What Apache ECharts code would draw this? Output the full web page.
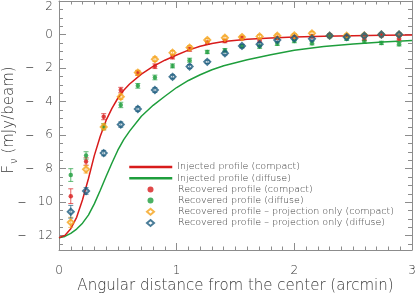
<!DOCTYPE html>
<html><head><meta charset="utf-8">
<script src="https://cdn.jsdelivr.net/npm/echarts@6/dist/echarts.min.js"></script>
<style>html,body{margin:0;padding:0;background:#fff}#c{width:415px;height:294px}</style>
</head><body><div id="c"></div>
<script>
// Injected model profiles
const curveX = [0, 0.05, 0.1, 0.15, 0.2, 0.25, 0.3, 0.35, 0.4, 0.45, 0.5, 0.55, 0.6, 0.7, 0.8, 0.9, 1.0, 1.1, 1.2, 1.3, 1.4, 1.6, 1.8, 2.0, 2.25, 2.5, 2.75, 3.0];
const injCompact = [-12.12, -11.98, -11.58, -10.9, -9.85, -8.6, -7.22, -6.08, -5.12, -4.4, -3.8, -3.32, -2.95, -2.36, -1.9, -1.53, -1.22, -0.93, -0.7, -0.53, -0.42, -0.28, -0.2, -0.14, -0.1, -0.07, -0.05, -0.03];
const injDiffuse = [-12.12, -12.04, -11.86, -11.6, -11.25, -10.77, -10.1, -9.3, -8.47, -7.66, -6.9, -6.27, -5.76, -4.87, -4.22, -3.68, -3.16, -2.74, -2.4, -2.1, -1.86, -1.5, -1.2, -0.94, -0.72, -0.56, -0.45, -0.35];

// Recovered profiles (points with error bars)
const ptX = [0.1, 0.23, 0.38, 0.525, 0.67, 0.815, 0.965, 1.11, 1.26, 1.41, 1.555, 1.705, 1.855, 2.0, 2.15, 2.3, 2.445, 2.595, 2.74, 2.89];
const recCompact = [-9.64, -7.57, -4.9, -3.31, -2.3, -1.89, -1.34, -0.88, -0.49, -0.39, -0.22, -0.35, -0.2, -0.15, -0.1, -0.05, -0.1, -0.25, -0.05, -0.23];
const recCompactErr = [0.44, 0.22, 0.18, 0.16, 0.14, 0.14, 0.12, 0.12, 0.1, 0.1, 0.1, 0.1, 0.1, 0.1, 0.1, 0.1, 0.1, 0.1, 0.1, 0.1];
const recDiffuse = [-8.38, -7.21, -5.5, -4.2, -3.06, -2.56, -1.87, -1.53, -1.04, -0.94, -0.7, -0.72, -0.55, -0.39, -0.52, -0.1, -0.25, -0.43, -0.5, -0.58];
const recDiffuseErr = [0.38, 0.22, 0.18, 0.16, 0.14, 0.14, 0.12, 0.12, 0.1, 0.1, 0.1, 0.1, 0.1, 0.1, 0.1, 0.1, 0.1, 0.1, 0.1, 0.1];
const projCompact = [-11.2, -8.04, -5.51, -3.71, -2.27, -1.47, -1.08, -0.78, -0.33, -0.19, -0.15, -0.11, -0.07, -0.05, 0.07, -0.07, -0.07, -0.05, 0.0, 0.0];
const projCompactErr = [0.3, 0.22, 0.18, 0.16, 0.14, 0.14, 0.12, 0.12, 0.1, 0.1, 0.1, 0.1, 0.1, 0.1, 0.1, 0.1, 0.1, 0.1, 0.1, 0.1];
const projDiffuse = [-10.57, -9.33, -7.07, -5.37, -4.44, -3.31, -2.52, -1.91, -1.63, -1.12, -0.68, -0.58, -0.33, -0.23, -0.25, -0.07, -0.15, -0.07, 0.0, 0.0];
const projDiffuseErr = [0.38, 0.2, 0.16, 0.16, 0.14, 0.14, 0.12, 0.12, 0.1, 0.1, 0.1, 0.1, 0.1, 0.1, 0.1, 0.1, 0.1, 0.1, 0.1, 0.1];

const names = ['Injected profile (compact)', 'Injected profile (diffuse)', 'Recovered profile (compact)', 'Recovered profile (diffuse)', 'Recovered profile \u2013 projection only (compact)', 'Recovered profile \u2013 projection only (diffuse)'];

const RED = '#d81b1b', GREEN = '#1e9e3c', ORANGE = '#f5a31a', BLUE = '#1b5b7e';
const FONT = 'DejaVu Sans';
const AXC = '#8c8c8c', TXT = '#383838';

function errSeries(ys, es, color) {
  return {
    type: 'custom', silent: true, z: 3,
    data: ptX.map((x, i) => [x, ys[i], es[i]]),
    renderItem: function (params, api) {
      const x = api.value(0), y = api.value(1), e = api.value(2);
      const t = api.coord([x, y + e]), b = api.coord([x, y - e]);
      const hw = 2.5;
      const st = { stroke: color, lineWidth: 1, opacity: 0.7 };
      return { type: 'group', children: [
        { type: 'line', shape: { x1: t[0], y1: t[1], x2: b[0], y2: b[1] }, style: st },
        { type: 'line', shape: { x1: t[0] - hw, y1: t[1], x2: t[0] + hw, y2: t[1] }, style: st },
        { type: 'line', shape: { x1: b[0] - hw, y1: b[1], x2: b[0] + hw, y2: b[1] }, style: st }
      ] };
    }
  };
}
function pts(ys) { return ptX.map((x, i) => [x, ys[i]]); }
function crv(ys) { return curveX.map((x, i) => [x, ys[i]]); }

const axisCommonX = {
  type: 'value', min: 0, max: 3, interval: 1,
  axisLine: { show: true, onZero: false, lineStyle: { color: AXC, width: 1 } },
  axisTick: { show: true, inside: true, length: 7, lineStyle: { color: AXC } },
  minorTick: { show: true, splitNumber: 10, length: 3.5, lineStyle: { color: AXC } },
  splitLine: { show: false }, minorSplitLine: { show: false }
};
const axisCommonY = {
  type: 'value', min: -12.85, max: 2, splitNumber: 7,
  axisLine: { show: true, onZero: false, lineStyle: { color: AXC, width: 1 } },
  axisTick: { show: true, inside: true, length: 7, lineStyle: { color: AXC } },
  minorTick: { show: true, splitNumber: 4, length: 4, lineStyle: { color: AXC } },
  splitLine: { show: false }, minorSplitLine: { show: false }
};
const legendText = { fontFamily: FONT, fontSize: 9.5, fontWeight: 200, color: TXT, lineHeight: 11 };

const chart = echarts.init(document.getElementById('c'), null, { renderer: 'canvas' });
chart.setOption({
  animation: false,
  backgroundColor: '#fff',
  grid: { left: 59, right: 3, top: 1, bottom: 44, containLabel: false, outerBoundsMode: 'none' },
  xAxis: [
    Object.assign({}, axisCommonX, {
      position: 'bottom',
      name: 'Angular distance from the center (arcmin)', nameLocation: 'middle', nameGap: 29,
      nameMoveOverlap: false,
      nameTextStyle: { fontFamily: FONT, fontSize: 15, fontWeight: 200, color: TXT },
      axisLabel: { show: true, margin: 15, fontFamily: FONT, fontSize: 12, fontWeight: 200, color: TXT }
    }),
    Object.assign({}, axisCommonX, { position: 'top', axisLabel: { show: false } })
  ],
  yAxis: [
    Object.assign({}, axisCommonY, {
      position: 'left',
      name: 'F{s|\u03bd} (mJy/beam)', nameLocation: 'middle', nameGap: 40, nameRotate: 90,
      nameMoveOverlap: false,
      nameTextStyle: { fontFamily: FONT, fontSize: 15, fontWeight: 200, color: TXT, padding: [0, 0, 0, 11],
        rich: { s: { fontFamily: FONT, fontSize: 10, fontWeight: 200, color: TXT, padding: [9, 0, 0, 1] } } },
      axisLabel: { show: true, margin: 6, showMinLabel: false, verticalAlignMaxLabel: 'top',
        fontFamily: FONT, fontSize: 12, fontWeight: 200, color: TXT,
        rich: { m: { fontFamily: FONT, fontSize: 17, fontWeight: 200, color: TXT } },
        formatter: function (v) { return v < 0 ? '{m|\u2013}   ' + Math.abs(v) : String(v); } }
    }),
    Object.assign({}, axisCommonY, { position: 'right', axisLabel: { show: false } })
  ],
  legend: [
    {
      orient: 'vertical', left: 128, top: 161.5, padding: 0, itemWidth: 43, itemHeight: 6, itemGap: 0.2,
      data: [
        { name: names[0], itemStyle: { opacity: 0 } },
        { name: names[1], itemStyle: { opacity: 0 } }
      ],
      lineStyle: { width: 2.5 },
      textStyle: legendText
    },
    {
      orient: 'vertical', left: 146, top: 183.9, padding: 0, itemWidth: 7, itemHeight: 6, itemGap: 0.2,
      data: [names[2], names[3], names[4], names[5]],
      textStyle: Object.assign({}, legendText, { padding: [0, 0, 0, 19] })
    }
  ],
  series: [
    { name: names[1], type: 'line', data: crv(injDiffuse), smooth: false, symbol: 'none', z: 2,
      lineStyle: { color: GREEN, width: 1.5 }, itemStyle: { color: GREEN } },
    { name: names[0], type: 'line', data: crv(injCompact), smooth: false, symbol: 'none', z: 2,
      lineStyle: { color: RED, width: 1.5 }, itemStyle: { color: RED } },
    errSeries(recCompact, recCompactErr, RED),
    errSeries(recDiffuse, recDiffuseErr, GREEN),
    errSeries(projCompact, projCompactErr, ORANGE),
    errSeries(projDiffuse, projDiffuseErr, BLUE),
    { name: names[2], type: 'scatter', data: pts(recCompact), symbol: 'circle', symbolSize: 4.5, z: 4,
      itemStyle: { color: RED } },
    { name: names[3], type: 'scatter', data: pts(recDiffuse), symbol: 'circle', symbolSize: 4.5, z: 4,
      itemStyle: { color: GREEN } },
    { name: names[4], type: 'scatter', data: pts(projCompact), symbol: 'diamond', symbolSize: 6, z: 5,
      itemStyle: { color: 'rgba(255,255,255,0)', borderColor: ORANGE, borderWidth: 2 } },
    { name: names[5], type: 'scatter', data: pts(projDiffuse), symbol: 'diamond', symbolSize: 6, z: 6,
      itemStyle: { color: 'rgba(255,255,255,0)', borderColor: BLUE, borderWidth: 2 } }
  ]
});
</script></body></html>
